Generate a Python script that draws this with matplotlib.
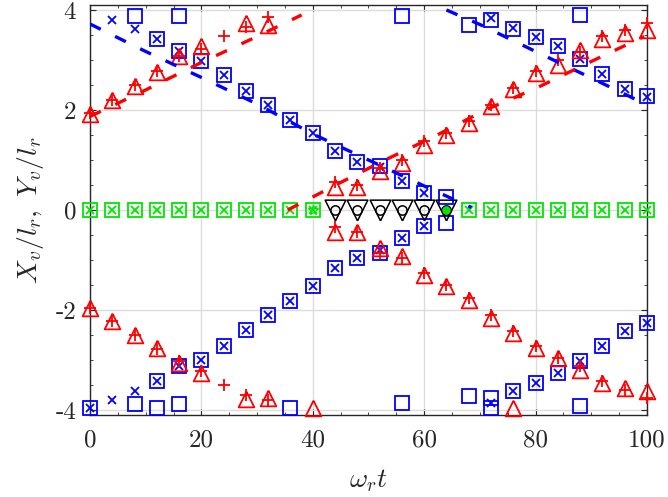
'''vortex positions vs omega_r t'''

import numpy as np
import matplotlib.pyplot as plt

plt.rcParams['font.family'] = 'cmr10'
plt.rcParams['mathtext.fontset'] = 'cm'
plt.rcParams['axes.unicode_minus'] = False

nan = np.nan

# sample times (omega_r t)
t = [0, 4, 8, 12, 16, 20, 24, 28, 32, 36, 40, 44, 48,
     52, 56, 60, 64, 68, 72, 76, 80, 84, 88, 92, 96, 100]

# red triangles / red plus, upper and lower branches
tri_up = [1.91, 2.20, 2.48, 2.75, 3.07, 3.27, nan, 3.73, 3.70, nan, nan, 0.45, 0.45,
          0.77, 0.93, 1.30, 1.50, 1.73, 2.07, 2.41, 2.73, 2.90, 3.20, 3.41, 3.53, 3.60]
plus_up = [1.93, 2.20, 2.50, 2.77, 3.07, 3.22, 3.48, 3.65, 3.85, nan, nan, 0.55, 0.50,
           0.83, 1.00, 1.37, 1.53, 1.77, 2.10, 2.43, 2.77, 3.00, 3.15, 3.47, 3.59, 3.73]
tri_dn = [-1.97, -2.23, -2.50, -2.77, -3.06, -3.27, nan, -3.78, -3.77, nan, nan, -0.45, -0.45,
          -0.77, -0.93, -1.30, -1.53, -1.80, -2.17, -2.47, -2.77, -2.97, -3.20, -3.47, -3.57, -3.63]
plus_dn = [-1.97, -2.23, -2.50, -2.78, -3.03, -3.23, -3.50, -3.70, -3.80, nan, nan, -0.35, -0.45,
           -0.86, -0.97, -1.27, -1.50, -1.77, -2.10, -2.43, -2.73, -2.97, -3.13, -3.43, -3.60, -3.77]
tri_edge_t = [40, 76]
tri_edge_y = [-3.96, -3.97]

# blue squares / blue x, upper and lower branches
sq_up = [nan, nan, nan, 3.41, 3.17, 2.98, 2.70, 2.37, 2.10, 1.80, 1.53, 1.17, 0.95,
         0.87, 0.57, 0.33, 0.25, 3.70, 3.80, 3.61, 3.45, 3.27, 3.01, 2.72, 2.41, 2.27]
x_up = [nan, 3.79, 3.61, 3.41, 3.17, 2.98, 2.70, 2.37, 2.10, 1.80, 1.53, 1.17, 0.95,
        0.85, 0.57, 0.33, nan, nan, 3.83, 3.63, 3.45, 3.27, 3.01, 2.72, 2.41, 2.25]
sq_dn = [-3.97, nan, nan, -3.43, -3.13, -3.00, -2.73, -2.40, -2.10, -1.83, -1.53, -1.17, -0.97,
         -0.87, -0.57, -0.33, -0.27, -3.72, -3.77, -3.63, -3.47, -3.27, -3.03, -2.73, -2.43, -2.27]
x_dn = [-3.97, -3.80, -3.63, -3.43, -3.13, -3.00, -2.73, -2.40, -2.10, -1.83, -1.53, -1.17, -0.97,
        -0.80, -0.57, -0.33, nan, nan, -3.87, -3.63, -3.47, -3.27, -3.03, -2.73, -2.43, -2.27]
sq_edge_t = [8, 16, 56, 88, 8, 12, 16, 36, 56, 72, 88]
sq_edge_y = [3.87, 3.87, 3.87, 3.90, -3.88, -3.97, -3.88, -3.97, -3.87, -3.97, -3.93]

# green markers on the axis
green_t = [0, 4, 8, 12, 16, 20, 24, 28, 32, 36, 40,
           68, 72, 76, 80, 84, 88, 92, 96, 100]
green_y = [0] * len(green_t)
star_t, star_y = [40], [0]
dot_t, dot_y = [64], [0]

# black triangles + circles
black_t = [44, 48, 52, 56, 60, 64]
black_y = [0] * len(black_t)

# dashed model curves
blue1_t = [0, 10, 20, 30, 40, 50, 60, 68.5]
blue1_y = [3.72, 3.17, 2.65, 2.12, 1.52, 1.00, 0.48, 0.05]
blue2_t = [64, 70, 80, 90, 98]
blue2_y = [4.00, 3.71, 3.17, 2.64, 2.21]
red1_t = [0, 10, 20, 30, 38]
red1_y = [1.87, 2.40, 2.95, 3.47, 3.90]
red2_t = [35.5, 45, 53, 62, 71, 80, 90, 99.5]
red2_y = [0.00, 0.55, 1.00, 1.48, 2.00, 2.43, 2.97, 3.47]

up_tri = [(0, 1), (-1, -1), (1, -1), (0, 1)]
dn_tri = [(0, -1), (-1, 1), (1, 1), (0, -1)]
GREEN = '#00e600'

fig = plt.figure(figsize=(6.68, 4.97), dpi=100)
ax = fig.add_axes([0.1347, 0.165, 0.8338, 0.825])


def pts(x, y, marker, color, ms, mew=1.3, z=3):
    ax.plot(x, y, linestyle='none', marker=marker, ms=ms, mec=color,
            mfc='none', mew=mew, clip_on=False, zorder=z)


pts(green_t, green_y, 's', GREEN, 9.5)
pts(green_t, green_y, 'x', GREEN, 6)
pts(sq_edge_t, sq_edge_y, 's', 'b', 9.5)
pts(t, sq_up, 's', 'b', 9.5)
pts(t, sq_dn, 's', 'b', 9.5)
pts(t, x_up, 'x', 'b', 6)
pts(t, x_dn, 'x', 'b', 6)
pts(t, tri_up, up_tri, 'r', 11.3)
pts(t, tri_dn, up_tri, 'r', 11.3)
pts(tri_edge_t, tri_edge_y, up_tri, 'r', 11.3)
pts(t, plus_up, '+', 'r', 8.6)
pts(t, plus_dn, '+', 'r', 8.6)
pts(black_t, black_y, dn_tri, 'k', 14.9, mew=1.1)
pts(black_t, black_y, 'o', 'k', 6.7, mew=1.1)
pts(star_t, star_y, '*', GREEN, 8, mew=1.0)
ax.plot(dot_t, dot_y, linestyle='none', marker='o', ms=5, color=GREEN, zorder=4)

dash = dict(linestyle='--', dashes=(3.6, 4.8), lw=2.4, zorder=5)
ax.plot(blue1_t, blue1_y, color='b', **dash)
ax.plot(blue2_t, blue2_y, color='b', **dash)
ax.plot(red1_t, red1_y, color='r', **dash)
ax.plot(red2_t, red2_y, color='r', **dash)

ax.set_xlim(0, 100)
ax.set_ylim(-4.1, 4.1)
ax.set_xticks([0, 20, 40, 60, 80, 100])
ax.set_yticks([-4, -2, 0, 2, 4])
ax.set_xticks(np.arange(0, 101, 5), minor=True)
ax.set_yticks(np.arange(-4, 4.01, 0.5), minor=True)
ax.grid(True, which='major', color='#dcdcdc', lw=1.0)
ax.set_axisbelow(True)
ax.tick_params(which='both', direction='in', top=True, right=True,
               color='#262626', labelsize=18, labelcolor='#262626')
ax.tick_params(which='major', length=4, pad=10)
ax.tick_params(which='minor', length=2.5)
for s in ax.spines.values():
    s.set_color('#262626')
    s.set_linewidth(1.0)

ax.set_xlabel(r'$\omega_r t$', fontsize=20, color='#262626', labelpad=12)
ax.set_ylabel(r'$X_v/l_r,\ Y_v/l_r$', fontsize=20, color='#262626', labelpad=7)

fig.savefig('out.png', dpi=100)
